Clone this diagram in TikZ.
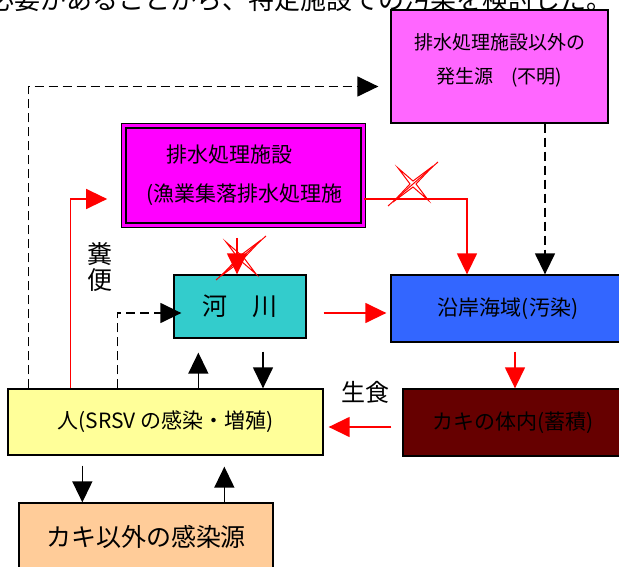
\documentclass[tikz,border=0pt]{standalone}
\usepackage{fontspec}
\setmainfont{Noto Sans CJK JP}
\usepackage{xcolor}
\usepackage{tikz}
\usetikzlibrary{arrows.meta}
\usetikzlibrary{shapes,positioning,calc}
\definecolor{srcpink}{HTML}{FF66FF}
\definecolor{plantmag}{HTML}{FF00FF}
\definecolor{rivercyan}{HTML}{33CCCC}
\definecolor{seablue}{HTML}{3366FF}
\definecolor{manyellow}{HTML}{FFFF99}
\definecolor{oysterred}{HTML}{660000}
\definecolor{otherorange}{HTML}{FFCC99}

\begin{document}
\begin{tikzpicture}[x=1pt,y=-1pt,
    box/.style={draw=black,line width=1.3pt,inner sep=0pt,align=center},
    arr/.style={-{Triangle[width=20pt,length=21pt]},line width=1.4pt},
    redarr/.style={arr,color=red},
    dasharr/.style={arr,dash pattern=on 9pt off 5pt},
    xcross/.pic={
      \draw[red,line width=1pt] (-25,22) -- (25,-22);
      \draw[red,line width=1pt] (-15,-16) -- (0,-3) -- (20,-18) -- (3,0) -- (15,16) -- (0,3) -- (-20,18) -- (-3,0) -- cycle;
    }]
    \useasboundingbox (0,0) rectangle (619,567);
    \node[anchor=base east,inner sep=0pt,font=\fontsize{26}{26}\selectfont] (note) at (613,10) {る必要があることから、特定施設での汚染を検討した。};

    \node[box,fill=srcpink,minimum width=217pt,minimum height=113pt] (src) at (499.5,66.5) {};
    \node[align=center,font=\fontsize{19}{34}\selectfont] (srctext) at ([yshift=6.5pt]src.center) {排水処理施設以外の\\発生源\hspace{18pt}(不明)};
    \node[box,fill=plantmag,double=plantmag,double distance=3pt,minimum width=239.4pt,minimum height=99.4pt] (plant) at (243.5,175.5) {};
    \node[anchor=west,inner sep=0pt,font=\fontsize{21}{21}\selectfont] (planta) at ([xshift=43pt,yshift=20.5pt]plant.west) {排水処理施設};
    \node[anchor=west,inner sep=0pt,font=\fontsize{21}{21}\selectfont] (plantb) at ([xshift=23pt,yshift=-19.5pt]plant.west) {(漁業集落排水処理施};
    \node[box,fill=rivercyan,minimum width=132pt,minimum height=63pt,font=\fontsize{25}{25}\selectfont] (river) at (240,306.5) {河　川};
    \node[box,fill=seablue,minimum width=234pt,minimum height=67pt,font=\fontsize{21}{21}\selectfont] (sea) at (508,308.5) {沿岸海域(汚染)};
    \node[box,fill=manyellow,minimum width=315pt,minimum height=66pt,font=\fontsize{21}{21}\selectfont] (man) at (165.5,422) {人(SRSV の感染・増殖)};
    \node[box,fill=oysterred,minimum width=220pt,minimum height=67pt,font=\fontsize{21}{21}\selectfont] (oyster) at (513,422.5) {カキの体内(蓄積)};
    \node[box,fill=otherorange,minimum width=254pt,minimum height=67pt,font=\fontsize{25}{25}\selectfont] (other) at (146,536.5) {カキ以外の感染源};
    \node[align=center,font=\fontsize{25}{26}\selectfont] (feces) at (100,267) {糞\\便};
    \node[font=\fontsize{24}{24}\selectfont] (raw) at (365,392) {生食};

    \draw[dasharr,shorten >=12pt] ([xshift=21pt]man.north west) |- ([yshift=-20pt]src.west);
    \draw[redarr,shorten >=16pt] ([xshift=63pt]man.north west) |- ([yshift=-23.5pt]plant.west);
    \draw[dasharr] ([xshift=110pt]man.north west) |- ([xshift=8pt,yshift=-6.5pt]river.west);
    \draw[arr,shorten >=14pt] ([xshift=191pt]man.north west) -- ([xshift=191pt]man.north west |- river.south);
    \draw[arr,shorten <=13pt] ([xshift=23pt]river.south) -- ([xshift=23pt]river.south |- man.north);
    \draw[redarr,shorten <=17pt,shorten >=4pt] ([yshift=-6.5pt]river.east) -- ([yshift=-6.5pt]river.east -| sea.west);
    \draw[redarr,shorten <=12pt] ([xshift=-6.5pt]plant.south) -- ([xshift=-6.5pt]plant.south |- river.north);
    \draw[redarr] ([yshift=-23.5pt]plant.east) -| ([xshift=-41pt]sea.north);
    \draw[dasharr] ([xshift=45.5pt]src.south) -- ([xshift=45.5pt]src.south |- sea.north);
    \draw[redarr,shorten <=9pt] ([xshift=7pt]sea.south) -- ([xshift=7pt]sea.south |- oyster.north);
    \draw[redarr,shorten <=11pt,shorten >=5pt] ([yshift=-4.5pt]oyster.west) -- ([yshift=-4.5pt]oyster.west -| man.east);
    \draw[arr,shorten <=10pt] ([xshift=75pt]man.south west) -- ([xshift=75pt]man.south west |- other.north);
    \draw[arr,shorten >=11pt] ([xshift=206pt]other.north west) -- ([xshift=206pt]other.north west |- man.south);
    \pic at (413,184) {xcross};
    \pic at (241,258) {xcross};
\end{tikzpicture}
\end{document}
